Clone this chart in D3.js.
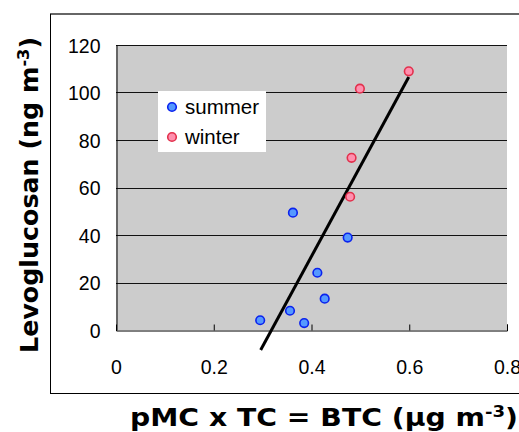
<!DOCTYPE html>
<html>
<head>
<meta charset="utf-8">
<script src="https://cdn.jsdelivr.net/npm/d3@7"></script>
<style>
  html, body { margin: 0; padding: 0; background: #fff; }
  svg { display: block; }
</style>
</head>
<body>
<div id="chart"></div>
<script>
// data
const summerX = [0.362, 0.474, 0.412, 0.427, 0.356, 0.295, 0.385];
const summerY = [49.4, 38.9, 24.1, 13.2, 8.1, 4.1, 2.9];
const winterX = [0.599, 0.499, 0.482, 0.479];
const winterY = [108.9, 101.6, 72.5, 56.1];
// regression line end points
const fitX = [0.296, 0.599];
const fitY = [-8.4, 106.5];

const xTicks = [0, 0.2, 0.4, 0.6, 0.8];
const yTicks = [0, 20, 40, 60, 80, 100, 120];
const seriesNames = ['summer', 'winter'];

const width = 519, height = 432;
const plot = { left: 116, top: 45, right: 507, bottom: 330 };

const colors = {
    summer: { fill: '#5599ff', stroke: '#0a22ee' },
    winter: { fill: '#ff8fae', stroke: '#e2304c' }
};

const svg = d3.select('#chart')
    .append('svg')
    .attr('width', width)
    .attr('height', height);

// outer frame
svg.append('line')
    .attr('x1', 50).attr('x2', width)
    .attr('y1', 14).attr('y2', 14)
    .attr('stroke', '#666').attr('stroke-width', 2);
svg.append('line')
    .attr('x1', 50.5).attr('x2', 50.5)
    .attr('y1', 14).attr('y2', 393.5)
    .attr('stroke', '#000');
svg.append('line')
    .attr('x1', 50).attr('x2', width)
    .attr('y1', 393.5).attr('y2', 393.5)
    .attr('stroke', '#000');

const x = d3.scaleLinear().domain([0, 0.8]).range([plot.left, plot.right]);
const y = d3.scaleLinear().domain([0, 120]).range([plot.bottom, plot.top]);

// plot background
svg.append('rect')
    .attr('x', plot.left).attr('y', plot.top)
    .attr('width', plot.right - plot.left)
    .attr('height', plot.bottom - plot.top)
    .attr('fill', '#cccccc');

// horizontal grid
svg.append('g')
    .selectAll('line')
    .data(yTicks.slice(1))
    .join('line')
    .attr('x1', plot.left).attr('x2', plot.right)
    .attr('y1', d => Math.round(y(d)) + 0.5)
    .attr('y2', d => Math.round(y(d)) + 0.5)
    .attr('stroke', '#111');

// x axis
const xAxis = svg.append('g')
    .attr('transform', 'translate(0,' + (plot.bottom + 0.5) + ')')
    .call(d3.axisBottom(x).tickValues(xTicks).tickSize(-6).tickPadding(30).tickFormat(d3.format('')));
xAxis.select('.domain').attr('stroke', '#000');
xAxis.selectAll('.tick line').attr('stroke', '#000');
xAxis.selectAll('.tick').filter(d => d === 0).select('line').remove();
xAxis.selectAll('text')
    .attr('fill', '#000')
    .style('font-size', '19.5px')
    .style('font-family', 'Arial, "Liberation Sans", sans-serif');

// y axis
const yAxis = svg.append('g')
    .attr('transform', 'translate(' + (plot.left + 0.5) + ',0)')
    .call(d3.axisLeft(y).tickValues(yTicks).tickSize(0).tickPadding(16));
yAxis.select('.domain').attr('stroke', '#000');
yAxis.selectAll('text')
    .attr('fill', '#000')
    .attr('dy', '0.36em')
    .style('font-size', '19.5px')
    .style('font-family', 'Arial, "Liberation Sans", sans-serif');

// regression line
svg.append('path')
    .datum(d3.zip(fitX, fitY))
    .attr('fill', 'none')
    .attr('stroke', '#000')
    .attr('stroke-width', 3)
    .attr('d', d3.line().x(d => x(d[0])).y(d => y(d[1])));

// points
function drawPoints(xs, ys, c) {
    svg.append('g')
        .selectAll('circle')
        .data(d3.zip(xs, ys))
        .join('circle')
        .attr('cx', d => x(d[0]))
        .attr('cy', d => y(d[1]))
        .attr('r', 4.3)
        .attr('fill', c.fill)
        .attr('stroke', c.stroke)
        .attr('stroke-width', 1.6);
}
drawPoints(summerX, summerY, colors.summer);
drawPoints(winterX, winterY, colors.winter);

// legend
const legend = svg.append('g');
legend.append('rect')
    .attr('x', 158).attr('y', 91)
    .attr('width', 108).attr('height', 61)
    .attr('fill', '#fff');
seriesNames.forEach((name, i) => {
    const cy = 107 + i * 30;
    legend.append('circle')
        .attr('cx', 172).attr('cy', cy).attr('r', 4.3)
        .attr('fill', colors[name].fill)
        .attr('stroke', colors[name].stroke)
        .attr('stroke-width', 1.6);
    legend.append('text')
        .attr('x', 185).attr('y', cy + 7)
        .style('font-size', '20.5px')
        .style('font-family', 'Arial, "Liberation Sans", sans-serif')
        .text(name);
});

// axis titles
const titleFont = '"Comic Sans MS", "DejaVu Sans", sans-serif';
const xTitle = svg.append('text')
    .attr('x', 130).attr('y', 426)
    .attr('textLength', 388)
    .attr('lengthAdjust', 'spacingAndGlyphs')
    .style('font-size', '25px')
    .style('font-weight', 'bold')
    .style('font-family', titleFont);
xTitle.append('tspan').text('pMC x TC = BTC (\u03bcg m');
xTitle.append('tspan').attr('dy', -9).style('font-size', '16px').text('-3');
xTitle.append('tspan').attr('dy', 9).text(')');

const yTitle = svg.append('text')
    .attr('transform', 'translate(38,353) rotate(-90)')
    .attr('x', 0).attr('y', 0)
    .attr('textLength', 316)
    .attr('lengthAdjust', 'spacingAndGlyphs')
    .style('font-size', '25px')
    .style('font-weight', 'bold')
    .style('font-family', titleFont);
yTitle.append('tspan').text('Levoglucosan (ng m');
yTitle.append('tspan').attr('dy', -9).style('font-size', '16px').text('-3');
yTitle.append('tspan').attr('dy', 9).text(')');
</script>
</body>
</html>
